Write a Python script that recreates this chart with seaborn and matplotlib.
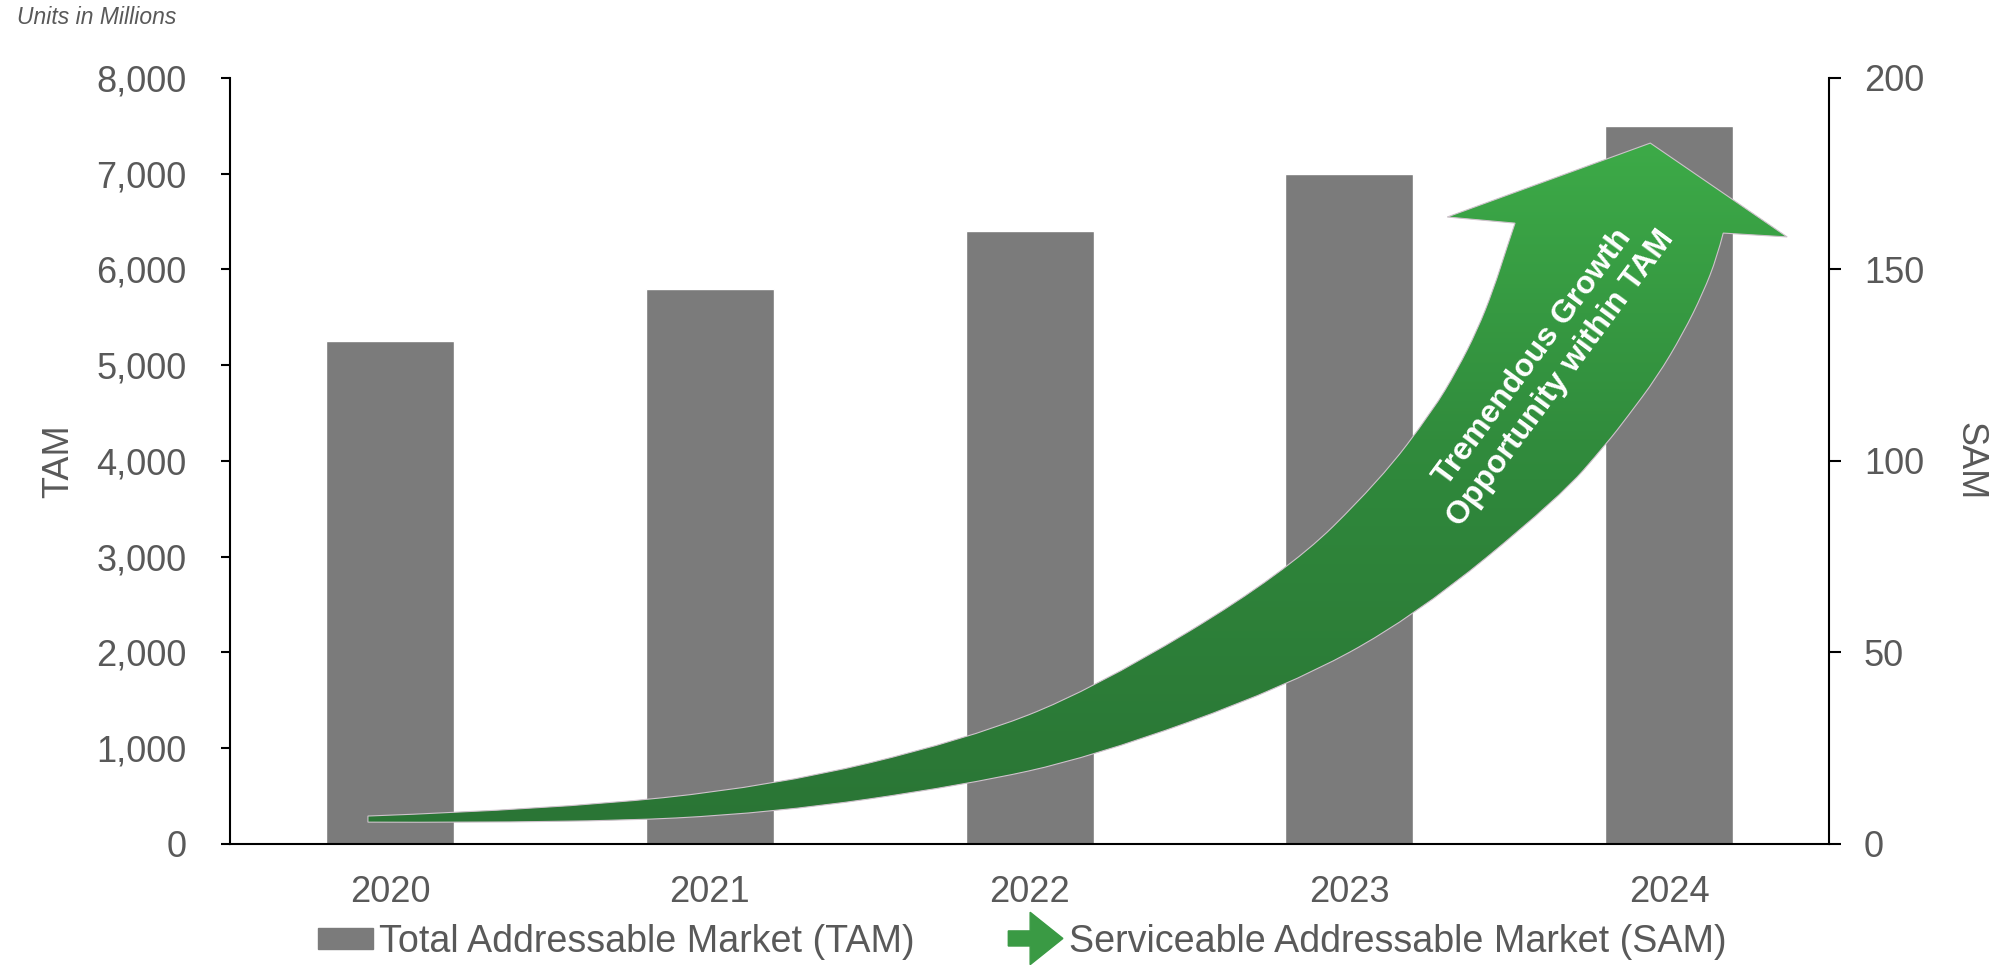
import numpy as np
import matplotlib
matplotlib.use('Agg')
import matplotlib.pyplot as plt
import matplotlib.patches as mpatches
from matplotlib.path import Path
from matplotlib.colors import LinearSegmentedColormap
from matplotlib.legend_handler import HandlerPatch
from matplotlib.ticker import FuncFormatter
import seaborn as sns

# TAM bars (units in millions)
years = ['2020', '2021', '2022', '2023', '2024']
tam = [5250, 5800, 6400, 7000, 7500]

# SAM growth arrow outline (x = year index, y = SAM axis)
sam_upper_x = [-0.069, 0.513, 1.198, 1.798, 2.195, 2.802, 3.096, 3.262, 3.337, 3.400,
               3.450, 3.493, 3.518]
sam_upper_y = [7.3, 9.1, 15.1, 27.2, 40.2, 70.8, 95.0, 113.3, 123.8, 134.2,
               144.7, 155.9, 162.1]
sam_head_x = [3.306, 3.941, 4.369]
sam_head_y = [163.7, 183.0, 158.5]
sam_lower_x = [4.169, 4.150, 4.106, 4.044, 3.962, 3.869, 3.806, 3.659, 3.203, 2.802,
               2.195, 1.798, 1.198, 0.594, -0.069]
sam_lower_y = [159.5, 153.3, 143.9, 133.4, 121.9, 111.5, 104.7, 90.6, 59.3, 41.0,
               22.7, 15.4, 8.1, 5.5, 5.7]

tam_ticks = list(range(0, 8001, 1000))
sam_ticks = [0, 50, 100, 150, 200]

GREY = '#7b7b7b'
TXT = '#595959'

sns.set_theme(style='white')
plt.rcParams['font.family'] = ['Liberation Sans', 'DejaVu Sans']

fig = plt.figure(figsize=(20.06, 9.65), dpi=100)
ax = fig.add_axes([0.1147, 0.1254, 0.7971, 0.7938])

sns.barplot(x=years, y=tam, color=GREY, saturation=1, width=0.4, ax=ax, zorder=2)
ax.set_xlim(-0.5, 4.5)
ax.set_ylim(0, 8000)
ax.set_yticks(tam_ticks)
ax.yaxis.set_major_formatter(FuncFormatter(lambda v, p: f'{v:,.0f}'))
ax.set_xticks(np.arange(-0.5, 5, 1), minor=True)
ax.tick_params(axis='x', which='major', length=0, pad=22, labelsize=26, labelcolor=TXT)
ax.tick_params(axis='x', which='minor', length=8.6, width=1.5, color='black', direction='out')
ax.tick_params(axis='y', length=6.5, width=1.5, color='black', direction='out', pad=25,
               labelsize=26, labelcolor=TXT, left=True)
ax.set_xlabel('')
ax.set_ylabel('TAM', fontsize=26, color=TXT)
ax.yaxis.set_label_coords(-0.107, 0.5)
ax.yaxis.label.set_va('center')
for s in ['top', 'right']:
    ax.spines[s].set_visible(False)
for s in ['left', 'bottom']:
    ax.spines[s].set_color('black')
    ax.spines[s].set_linewidth(1.5)

ax2 = ax.twinx()
for s in ['top', 'left', 'bottom']:
    ax2.spines[s].set_visible(False)
ax2.spines['right'].set_color('black')
ax2.spines['right'].set_linewidth(1.5)
ax2.grid(False)
ax.grid(False)


def smooth(xs, ys):
    pts = list(zip(xs, ys))
    verts, codes = [], []
    for i in range(1, len(pts) - 1):
        c = pts[i]
        if i < len(pts) - 2:
            e = ((pts[i][0] + pts[i + 1][0]) / 2, (pts[i][1] + pts[i + 1][1]) / 2)
        else:
            e = pts[-1]
        verts += [c, e]
        codes += [Path.CURVE3, Path.CURVE3]
    return verts, codes


verts = [(sam_upper_x[0], sam_upper_y[0])]
codes = [Path.MOVETO]
v, c = smooth(sam_upper_x, sam_upper_y)
verts += v
codes += c
for hx, hy in zip(sam_head_x, sam_head_y):
    verts.append((hx, hy))
    codes.append(Path.LINETO)
verts.append((sam_lower_x[0], sam_lower_y[0]))
codes.append(Path.LINETO)
v, c = smooth(sam_lower_x, sam_lower_y)
verts += v
codes += c
verts.append(verts[0])
codes.append(Path.CLOSEPOLY)

arrow = mpatches.PathPatch(Path(verts, codes), facecolor='none', edgecolor='#cfc2cc',
                           lw=0.8, zorder=4)
ax2.add_patch(arrow)
cmap = LinearSegmentedColormap.from_list('grn', ['#2a7435', '#2f873b', '#3dab48'])
grad = np.linspace(0, 1, 256).reshape(-1, 1)
im = ax2.imshow(grad, extent=[-0.5, 4.5, 0, 185], origin='lower', aspect='auto',
                cmap=cmap, zorder=3)
im.set_clip_path(arrow)

ax2.text(3.618, 124.3, 'Tremendous Growth\nOpportunity within TAM', rotation=53.5,
         rotation_mode='anchor', ha='center', va='center', multialignment='center',
         color='white', fontsize=23, fontweight='bold', linespacing=1.22, zorder=5)

ax2.set_xlim(-0.5, 4.5)
ax2.set_ylim(0, 200)
ax2.set_yticks(sam_ticks)
ax2.tick_params(axis='y', length=8.6, width=1.5, color='black', direction='out', pad=16.5,
                labelsize=26, labelcolor=TXT, right=True)
ax2.set_ylabel('SAM', fontsize=26, color=TXT, rotation=270)
ax2.yaxis.set_label_coords(1.088, 0.5)
ax2.yaxis.label.set_va('center')

fig.text(17 / 2006, 1 - 18 / 965, 'Units in Millions', fontsize=16.5, style='italic',
         color=TXT, ha='left', va='center')


def make_arrow(legend, orig_handle, xdescent, ydescent, width, height, fontsize):
    return mpatches.FancyArrow(-xdescent, height / 2 - ydescent, width, 0,
                               width=height * 0.72, head_width=height * 2.5,
                               head_length=width * 0.6, length_includes_head=True,
                               color='#3a9a44')


h_tam = mpatches.Patch(color=GREY, label='Total Addressable Market (TAM)')
h_sam = mpatches.Patch(color='#3a9a44', label='Serviceable Addressable Market (SAM)')
fig.legend(handles=[h_tam, h_sam], handler_map={h_sam: HandlerPatch(patch_func=make_arrow)},
           loc='center', bbox_to_anchor=(0.5096, 0.024), ncol=2, frameon=False,
           fontsize=27.1, handlelength=1.45, handleheight=0.48, handletextpad=0.15,
           columnspacing=2.5, labelcolor=TXT, borderaxespad=0, borderpad=0)

fig.savefig('out.png', dpi=100)
